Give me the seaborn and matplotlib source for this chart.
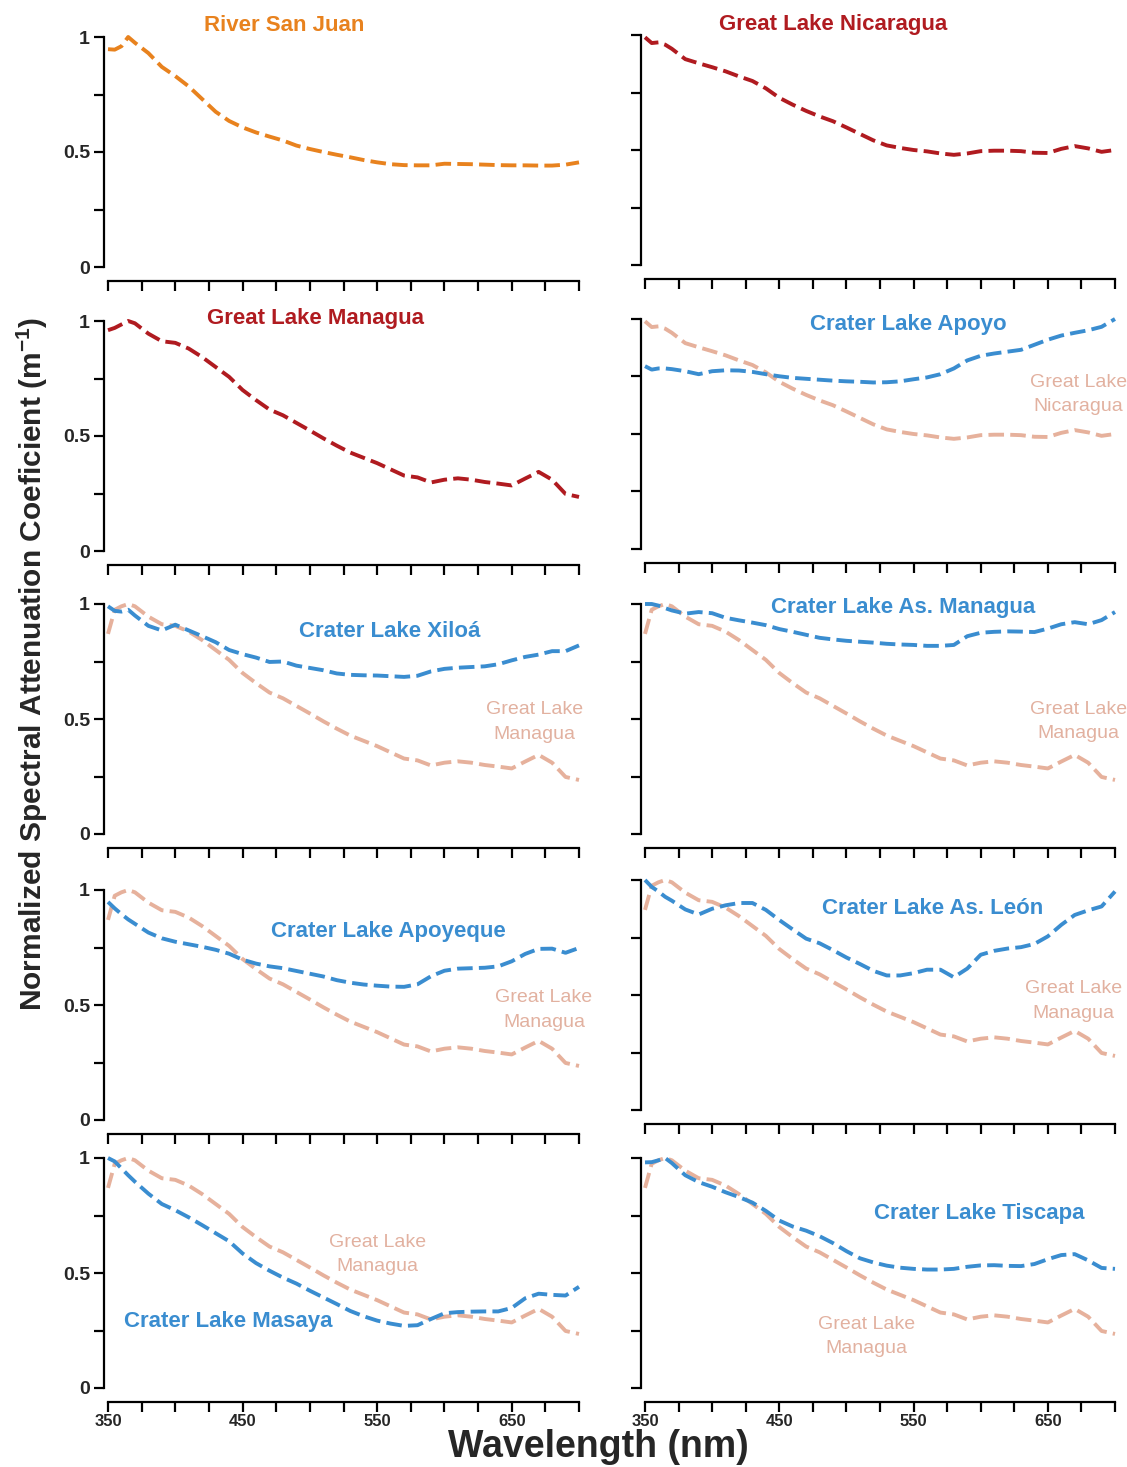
import matplotlib
matplotlib.use('Agg')
import matplotlib.pyplot as plt
import seaborn as sns
import pandas as pd

sns.set_style('ticks')
plt.rcParams['font.family'] = ['Liberation Sans', 'DejaVu Sans']
plt.rcParams['mathtext.fontset'] = 'custom'
plt.rcParams['mathtext.rm'] = 'Liberation Sans'
plt.rcParams['mathtext.bf'] = 'Liberation Sans:bold'

# ---------------- data ----------------
wavelength = [350, 355, 360, 365, 370, 380, 390, 400, 410, 420, 430, 440, 450,
              460, 470, 480, 490, 500, 510, 520, 530, 540, 550, 560, 570, 580,
              590, 600, 610, 620, 630, 640, 650, 660, 670, 680, 690, 700]

san_juan = [0.947, 0.945, 0.96, 1.0, 0.975, 0.93, 0.87, 0.83, 0.785, 0.73, 0.675,
            0.635, 0.607, 0.585, 0.567, 0.55, 0.528, 0.513, 0.5, 0.488, 0.477,
            0.465, 0.455, 0.447, 0.443, 0.442, 0.442, 0.449, 0.448, 0.447, 0.445,
            0.443, 0.442, 0.442, 0.441, 0.441, 0.445, 0.455]

nicaragua = [0.99, 0.965, 0.968, 0.958, 0.94, 0.895, 0.877, 0.86, 0.842, 0.82, 0.80,
             0.768, 0.727, 0.697, 0.67, 0.646, 0.625, 0.598, 0.57, 0.542, 0.52,
             0.509, 0.50, 0.494, 0.485, 0.479, 0.485, 0.495, 0.497, 0.497, 0.495,
             0.488, 0.487, 0.505, 0.517, 0.507, 0.492, 0.50]

managua = [0.96, 0.97, 0.985, 1.0, 0.99, 0.945, 0.912, 0.905, 0.88, 0.843, 0.80,
           0.757, 0.70, 0.656, 0.615, 0.59, 0.557, 0.524, 0.49, 0.458, 0.428,
           0.405, 0.382, 0.355, 0.328, 0.32, 0.298, 0.31, 0.316, 0.31, 0.30,
           0.293, 0.285, 0.315, 0.344, 0.31, 0.248, 0.235]

managua_ref = [0.87, 0.975, 0.99, 1.0, 0.99, 0.945, 0.912, 0.905, 0.88, 0.843, 0.80,
               0.757, 0.70, 0.656, 0.615, 0.59, 0.557, 0.524, 0.49, 0.458, 0.428,
               0.405, 0.382, 0.355, 0.328, 0.32, 0.298, 0.31, 0.316, 0.31, 0.30,
               0.293, 0.285, 0.315, 0.344, 0.31, 0.248, 0.235]

apoyo = [0.795, 0.78, 0.785, 0.785, 0.782, 0.773, 0.76, 0.773, 0.777, 0.776, 0.77,
         0.76, 0.751, 0.744, 0.74, 0.736, 0.732, 0.729, 0.727, 0.724, 0.725,
         0.729, 0.738, 0.746, 0.76, 0.785, 0.82, 0.84, 0.85, 0.858, 0.866,
         0.888, 0.91, 0.928, 0.94, 0.951, 0.966, 1.0]

xiloa = [0.99, 0.97, 0.967, 0.975, 0.95, 0.905, 0.885, 0.91, 0.885, 0.86, 0.834,
         0.80, 0.782, 0.767, 0.748, 0.75, 0.732, 0.722, 0.712, 0.698, 0.692,
         0.69, 0.689, 0.686, 0.683, 0.688, 0.707, 0.718, 0.723, 0.726, 0.729,
         0.738, 0.755, 0.77, 0.78, 0.795, 0.795, 0.82]

as_managua = [1.0, 1.0, 0.993, 0.982, 0.972, 0.958, 0.965, 0.96, 0.94, 0.929, 0.919,
              0.908, 0.891, 0.879, 0.866, 0.853, 0.846, 0.84, 0.836, 0.832, 0.827,
              0.824, 0.822, 0.818, 0.818, 0.822, 0.86, 0.875, 0.879, 0.881, 0.88,
              0.878, 0.893, 0.912, 0.921, 0.912, 0.93, 0.965]

apoyeque = [0.948, 0.92, 0.895, 0.872, 0.853, 0.815, 0.79, 0.775, 0.764, 0.753, 0.74,
            0.723, 0.697, 0.68, 0.668, 0.66, 0.648, 0.636, 0.624, 0.608, 0.597,
            0.589, 0.584, 0.58, 0.579, 0.59, 0.625, 0.649, 0.658, 0.66, 0.662,
            0.668, 0.69, 0.722, 0.744, 0.745, 0.727, 0.748]

as_leon = [1.0, 0.97, 0.95, 0.927, 0.91, 0.872, 0.85, 0.875, 0.89, 0.90, 0.90,
           0.87, 0.826, 0.785, 0.745, 0.725, 0.695, 0.663, 0.635, 0.605, 0.585,
           0.585, 0.595, 0.61, 0.61, 0.577, 0.615, 0.675, 0.692, 0.702, 0.708,
           0.722, 0.755, 0.805, 0.848, 0.868, 0.885, 0.95]

masaya = [1.0, 0.985, 0.955, 0.925, 0.897, 0.845, 0.80, 0.773, 0.742, 0.708, 0.673,
          0.638, 0.585, 0.543, 0.51, 0.48, 0.454, 0.423, 0.394, 0.365, 0.335,
          0.312, 0.293, 0.28, 0.27, 0.273, 0.30, 0.325, 0.33, 0.332, 0.333,
          0.333, 0.348, 0.39, 0.41, 0.405, 0.402, 0.44]

tiscapa = [0.981, 0.982, 0.99, 1.0, 0.978, 0.925, 0.895, 0.875, 0.851, 0.83, 0.806,
           0.77, 0.728, 0.702, 0.684, 0.66, 0.63, 0.595, 0.564, 0.546, 0.532,
           0.523, 0.518, 0.515, 0.515, 0.518, 0.527, 0.533, 0.534, 0.531, 0.53,
           0.539, 0.56, 0.578, 0.582, 0.555, 0.522, 0.518]

x_ticks = [350, 375, 400, 425, 450, 475, 500, 525, 550, 575, 600, 625, 650, 675, 700]
x_tick_labels = ['350', '', '', '', '450', '', '', '', '550', '', '', '', '650', '', '']
y_ticks = [0, 0.25, 0.5, 0.75, 1]
y_tick_labels = ['0', '', '0.5', '', '1']

ORANGE = '#E8821E'
RED = '#B01B20'
BLUE = '#3A8DD0'
SALMON = '#E6B19C'
SALMON_TXT = '#E2B1A0'

# (row, col, main, color, title, title_xy, ref, ref_label, ref_xy)
panels = [
    (0, 0, san_juan, ORANGE, 'River San Juan', (481, 1.05), None, None, None),
    (0, 1, nicaragua, RED, 'Great Lake Nicaragua', (490, 1.045), None, None, None),
    (1, 0, managua, RED, 'Great Lake Managua', (504, 1.01), None, None, None),
    (1, 1, apoyo, BLUE, 'Crater Lake Apoyo', (546, 0.975), nicaragua,
     'Great Lake\nNicaragua', (673, 0.672)),
    (2, 0, xiloa, BLUE, 'Crater Lake Xiloá', (559, 0.882), managua_ref,
     'Great Lake\nManagua', (667, 0.487)),
    (2, 1, as_managua, BLUE, 'Crater Lake As. Managua', (542, 0.985), managua_ref,
     'Great Lake\nManagua', (673, 0.49)),
    (3, 0, apoyeque, BLUE, 'Crater Lake Apoyeque', (558, 0.82), managua_ref,
     'Great Lake\nManagua', (674, 0.478)),
    (3, 1, as_leon, BLUE, 'Crater Lake As. León', (564, 0.877), managua_ref,
     'Great Lake\nManagua', (669, 0.474)),
    (4, 0, masaya, BLUE, 'Crater Lake Masaya', (439, 0.287), managua_ref,
     'Great Lake\nManagua', (550, 0.582)),
    (4, 1, tiscapa, BLUE, 'Crater Lake Tiscapa', (599, 0.757), managua_ref,
     'Great Lake\nManagua', (515, 0.225)),
]

# ---------------- layout ----------------
W, H = 1127, 1467
fig = plt.figure(figsize=(W / 100, H / 100), dpi=100)

col_left = [108, 645]
col_width = [471, 470]
zero_px = {0: [267, 551, 834, 1120, 1388], 1: [265, 549, 834, 1110, 1388]}
unit_px = 230
ytop = 1.06

dash = (0, (4.0, 1.6))
lw = 2.8

for (r, c, main, color, title, txy, ref, rlabel, rxy) in panels:
    y0 = zero_px[c][r]
    h = unit_px * ytop
    ax = fig.add_axes([col_left[c] / W, (H - y0) / H, col_width[c] / W, h / H])
    ax.set_xlim(350, 700)
    ax.set_ylim(0, ytop)
    if ref is not None:
        sns.lineplot(x=wavelength, y=ref, ax=ax, color=SALMON, lw=lw,
                     linestyle=dash, clip_on=False)
    sns.lineplot(x=wavelength, y=main, ax=ax, color=color, lw=lw,
                 linestyle=dash, clip_on=False)
    ax.text(txy[0], txy[1], title, color=color, fontsize=16, fontweight='bold',
            ha='center', va='center')
    if rlabel is not None:
        ax.text(rxy[0], rxy[1], rlabel, color=SALMON_TXT, fontsize=14,
                ha='center', va='center', linespacing=1.55)

    sns.despine(ax=ax)
    ax.spines['left'].set_bounds(0, 1)
    ax.spines['left'].set_position(('outward', 3))
    ax.spines['bottom'].set_bounds(350, 700)
    ax.spines['bottom'].set_position(('outward', 10))
    for s in ('left', 'bottom'):
        ax.spines[s].set_linewidth(1.6)
        ax.spines[s].set_color('black')
    ax.tick_params(axis='both', direction='out', length=7, width=1.6, color='black')

    ax.set_xticks(x_ticks)
    ax.set_yticks(y_ticks)
    if r == 4:
        ax.set_xticklabels(x_tick_labels, fontsize=12, fontweight='bold')
    else:
        ax.set_xticklabels([])
    if c == 0:
        ax.set_yticklabels(y_tick_labels, fontsize=14, fontweight='bold')
    else:
        ax.set_yticklabels([])
    ax.tick_params(axis='x', pad=2)
    ax.tick_params(axis='y', pad=3)
    ax.set_xlabel('')
    ax.set_ylabel('')

fig.text(32 / W, 1 - 664 / H,
         'Normalized Spectral Attenuation Coeficient (m$^{\\mathbf{-1}}$)',
         rotation=90, ha='center', va='center', fontsize=21.5, fontweight='bold')
fig.text(598 / W, 1 - 1447 / H, 'Wavelength (nm)', ha='center', va='center',
         fontsize=27, fontweight='bold')

fig.savefig('out.png', dpi=100)
